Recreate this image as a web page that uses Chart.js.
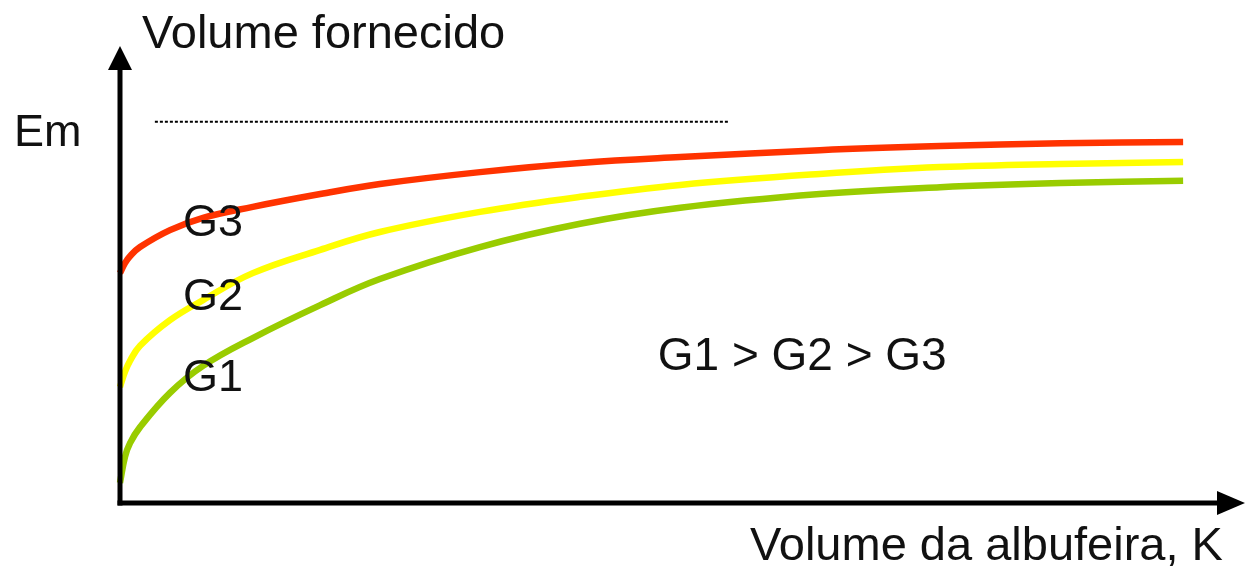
<!DOCTYPE html>
<html>
<head>
<meta charset="utf-8">
<script src="https://cdn.jsdelivr.net/npm/chart.js@4/dist/chart.umd.min.js"></script>
<style>
  body { margin: 0; background: #fff; }
  canvas { display: block; }
</style>
</head>
<body>
<canvas id="albufeira" width="1245" height="567" style="width:1245px;height:567px"></canvas>
<script>
// Volume da albufeira (K) e volume fornecido
var volumeK = [0, 0.44, 0.89, 1.78, 4.44, 7.38, 11.8, 17.8, 23.1, 32.0, 40.9, 49.8, 62.2, 72.9, 83.6, 94.5];
var g3 = [50.3, 52.5, 54.0, 56.0, 59.7, 62.4, 64.8, 67.6, 69.8, 72.4, 74.4, 75.7, 77.2, 78.1, 78.7, 79.0];
var g2 = [25.4, 28.7, 31.1, 34.4, 40.0, 44.4, 50.3, 55.4, 59.3, 63.7, 67.0, 69.6, 72.0, 73.5, 74.2, 74.6];
var g1 = [4.4, 10.1, 13.1, 16.6, 24.1, 30.0, 36.1, 43.3, 49.0, 56.0, 61.1, 64.6, 67.6, 69.1, 70.0, 70.5];

// linha Em (tracejada)
var emK = [3.1, 54.2];
var emValor = [83.4, 83.4];

function pontos(xs, ys) {
  var out = [];
  for (var i = 0; i < xs.length; i++) {
    out.push({ x: xs[i], y: ys[i] });
  }
  return out;
}

var fonte = '"Liberation Sans", Arial, sans-serif';

// eixos com setas e textos
var eixosPlugin = {
  id: "eixos",
  afterDatasetsDraw: function (chart) {
    var ctx = chart.ctx;
    var a = chart.chartArea;
    var sx = chart.scales.x;
    var sy = chart.scales.y;
    var x0 = a.left;
    var y0 = a.bottom;

    ctx.save();
    ctx.strokeStyle = "#000";
    ctx.fillStyle = "#000";
    ctx.lineWidth = 5;
    ctx.lineCap = "butt";

    // eixo y
    ctx.beginPath();
    ctx.moveTo(x0, y0 + 2.5);
    ctx.lineTo(x0, a.top + 20);
    ctx.stroke();
    ctx.beginPath();
    ctx.moveTo(x0, a.top);
    ctx.lineTo(x0 - 12, a.top + 24);
    ctx.lineTo(x0 + 12, a.top + 24);
    ctx.closePath();
    ctx.fill();

    // eixo x
    ctx.beginPath();
    ctx.moveTo(x0 - 2.5, y0);
    ctx.lineTo(a.right - 20, y0);
    ctx.stroke();
    ctx.beginPath();
    ctx.moveTo(a.right, y0);
    ctx.lineTo(a.right - 28, y0 - 12);
    ctx.lineTo(a.right - 28, y0 + 12);
    ctx.closePath();
    ctx.fill();

    // textos
    ctx.fillStyle = "#111";
    ctx.textBaseline = "alphabetic";
    ctx.textAlign = "left";
    ctx.font = "47px " + fonte;
    ctx.fillText("Volume fornecido", x0 + 22, a.top + 2);
    ctx.fillText("Volume da albufeira, K", 750, y0 + 57);
    ctx.font = "46px " + fonte;
    ctx.fillText("G1 > G2 > G3", sx.getPixelForValue(47.8), sy.getPixelForValue(29));
    ctx.font = "45px " + fonte;
    ctx.fillText("Em", 14, sy.getPixelForValue(78.1));
    ctx.fillText("G3", sx.getPixelForValue(5.6), sy.getPixelForValue(58.4));
    ctx.fillText("G2", sx.getPixelForValue(5.6), sy.getPixelForValue(42.2));
    ctx.fillText("G1", sx.getPixelForValue(5.6), sy.getPixelForValue(24.5));
    ctx.restore();
  },
};

var ctx = document.getElementById("albufeira").getContext("2d");
var grafico = new Chart(ctx, {
  type: "line",
  data: {
    datasets: [
      {
        label: "Em",
        data: pontos(emK, emValor),
        borderColor: "#000",
        borderWidth: 2,
        borderDash: [3, 2],
        pointRadius: 0,
        fill: false,
      },
      {
        label: "G3",
        data: pontos(volumeK, g3),
        borderColor: "#ff3300",
        borderWidth: 6.5,
        pointRadius: 0,
        tension: 0.4,
        fill: false,
        clip: false,
      },
      {
        label: "G2",
        data: pontos(volumeK, g2),
        borderColor: "#ffff00",
        borderWidth: 6.5,
        pointRadius: 0,
        tension: 0.4,
        fill: false,
        clip: false,
      },
      {
        label: "G1",
        data: pontos(volumeK, g1),
        borderColor: "#99cc00",
        borderWidth: 6.5,
        pointRadius: 0,
        tension: 0.4,
        fill: false,
        clip: false,
      },
    ],
  },
  options: {
    responsive: false,
    animation: false,
    layout: { padding: { left: 120, right: 0, top: 46, bottom: 64 } },
    plugins: { legend: { display: false }, tooltip: { enabled: false } },
    scales: {
      x: { type: "linear", min: 0, max: 100, display: false },
      y: { type: "linear", min: 0, max: 100, display: false },
    },
  },
  plugins: [eixosPlugin],
});
</script>
</body>
</html>
